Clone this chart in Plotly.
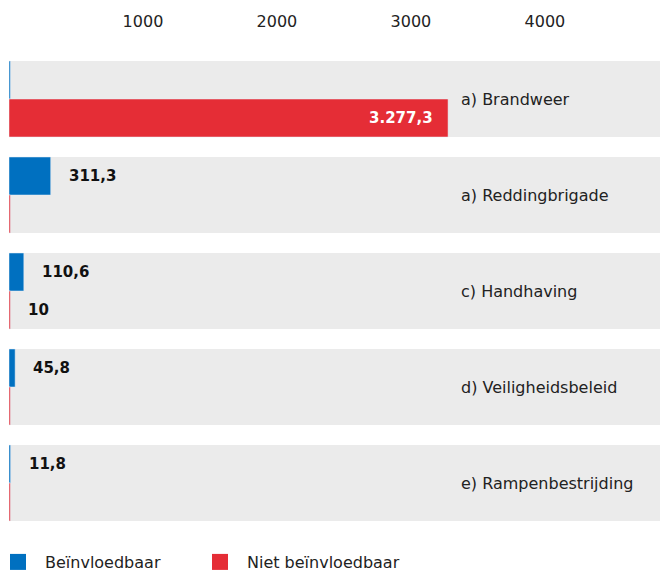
import plotly.graph_objects as go

# categorie-namen en bedragen
categories = ["a) Brandweer", "a) Reddingbrigade", "c) Handhaving",
              "d) Veiligheidsbeleid", "e) Rampenbestrijding"]
beinvloedbaar = [10, 311.3, 110.6, 45.8, 11.8]
niet_beinvloedbaar = [3277.3, 10, 10, 10, 10]
label_blauw = ["", "311,3", "110,6", "45,8", "11,8"]
label_rood = ["3.277,3", "", "10", "", ""]
tick_vals = [1000, 2000, 3000, 4000]
tick_text = ["1000", "2000", "3000", "4000"]

BLAUW = "#0070c0"
ROOD = "#e52d36"
GRIJS = "#ebebeb"
FONT = "DejaVu Sans"

fig = go.Figure()
fig.add_trace(go.Bar(y=categories, x=beinvloedbaar, orientation="h",
                     marker_color=BLAUW, showlegend=False, hoverinfo="x"))
fig.add_trace(go.Bar(y=categories, x=niet_beinvloedbaar, orientation="h",
                     marker_color=ROOD, showlegend=False, hoverinfo="x"))

# legenda met vierkantjes, elk in een eigen legend
fig.add_trace(go.Scatter(x=[None], y=[None], mode="markers", name="Beïnvloedbaar",
                         marker=dict(symbol="square", size=18, color=BLAUW),
                         legend="legend"))
fig.add_trace(go.Scatter(x=[None], y=[None], mode="markers", name="Niet beïnvloedbaar",
                         marker=dict(symbol="square", size=18, color=ROOD),
                         legend="legend2"))

shapes = []
annotations = []
half = 0.396
for i, cat in enumerate(categories):
    shapes.append(dict(type="rect", xref="paper", yref="y", x0=0, x1=1,
                       y0=i - half, y1=i + half, fillcolor=GRIJS,
                       line_width=0, layer="below"))
    annotations.append(dict(xref="paper", yref="y", x=0.683, y=i, text=cat,
                            xanchor="left", showarrow=False,
                            font=dict(family=FONT, size=16, color="#222")))
    if label_blauw[i]:
        annotations.append(dict(x=beinvloedbaar[i], y=i - half / 2, text="<b>" + label_blauw[i] + "</b>",
                                xanchor="left", xshift=16, showarrow=False,
                                font=dict(family=FONT, size=15, color="#111")))
    if label_rood[i]:
        inside = niet_beinvloedbaar[i] > 1000
        annotations.append(dict(x=niet_beinvloedbaar[i], y=i + half / 2,
                                text="<b>" + label_rood[i] + "</b>",
                                xanchor="right" if inside else "left",
                                xshift=-13 if inside else 16, showarrow=False,
                                font=dict(family=FONT, size=15,
                                          color="white" if inside else "#111")))

legend_stijl = dict(orientation="h", yanchor="middle", xanchor="left",
                    font=dict(family=FONT, size=16, color="#222"),
                    itemwidth=44, bgcolor="rgba(0,0,0,0)")

fig.update_layout(
    width=668, height=569,
    margin=dict(l=1, r=8, t=43, b=46, autoexpand=False),
    plot_bgcolor="white", paper_bgcolor="white",
    barmode="group", bargap=0.2083, bargroupgap=0,
    shapes=shapes, annotations=annotations,
    font=dict(family=FONT, size=16, color="#222"),
    legend=dict(x=-0.0273, y=-0.0646, **legend_stijl),
    legend2=dict(x=0.2792, y=-0.0646, **legend_stijl),
)
fig.update_xaxes(side="top", range=[0, 4919], tickvals=tick_vals, ticktext=tick_text,
                 showgrid=False, zeroline=False, showline=False, ticks="",
                 automargin=False, ticklabelstandoff=20,
                 tickfont=dict(family=FONT, size=16, color="#222"))
fig.update_yaxes(autorange="reversed", showticklabels=False, showgrid=False,
                 zeroline=False, showline=False, ticks="", automargin=False)

fig.write_html("out.html")
